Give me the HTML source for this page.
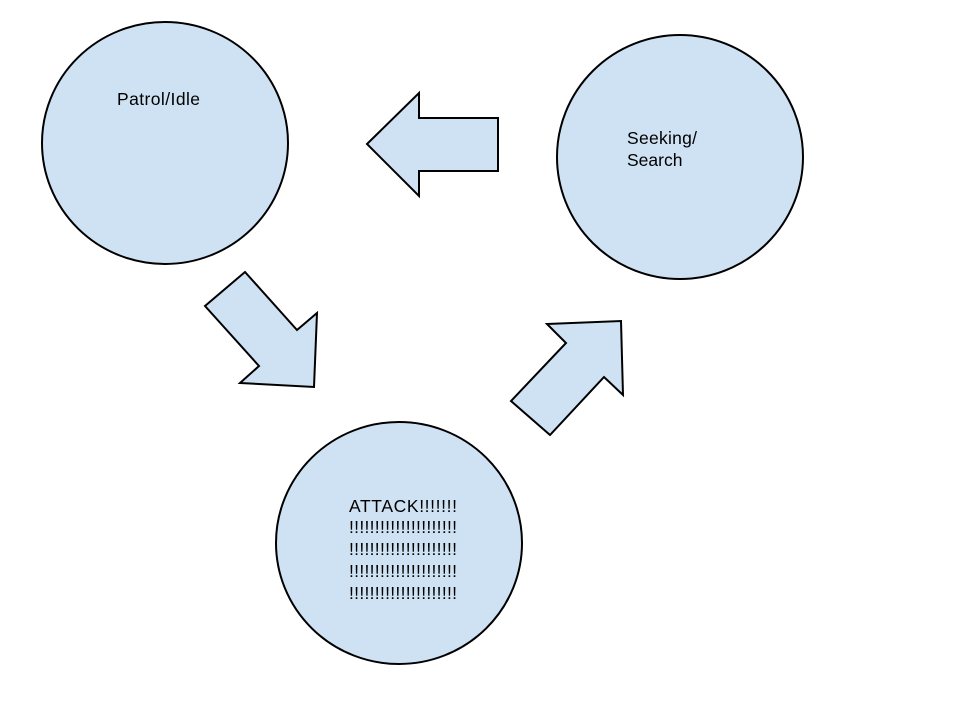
<!DOCTYPE html>
<html><head><style>body{margin:0;background:#fff}svg{display:block}text{font-family:"Liberation Sans",Arial,sans-serif;font-size:17.5px;fill:#000}</style></head>
<body>
<svg width="960" height="720" viewBox="0 0 960 720">
<g fill="#cfe2f3" stroke="#000" stroke-width="2" stroke-linejoin="miter">
<ellipse cx="165" cy="143" rx="123" ry="121"/>
<ellipse cx="680" cy="157" rx="123" ry="122"/>
<ellipse cx="399" cy="543" rx="123" ry="121"/>
<polygon points="367,144 419,93 419,118 498,118 498,171 419,171 419,196"/>
<polygon points="245,272 297,330 317,313 314,387 240,383 259,366 205,306"/>
<polygon points="547,324 621,321 623,395 604,377 550,435 511,401 566,343"/>
</g>
<text x="117" y="105" textLength="83">Patrol/Idle</text>
<text x="627" y="144" textLength="70">Seeking/</text>
<text x="627" y="166">Search</text>
<text x="349" y="512" textLength="108">ATTACK!!!!!!!</text>
<text x="349" y="533" textLength="108">!!!!!!!!!!!!!!!!!!!!!</text>
<text x="349" y="555" textLength="108">!!!!!!!!!!!!!!!!!!!!!</text>
<text x="349" y="577" textLength="108">!!!!!!!!!!!!!!!!!!!!!</text>
<text x="349" y="599" textLength="108">!!!!!!!!!!!!!!!!!!!!!</text>
</svg>
</body></html>
